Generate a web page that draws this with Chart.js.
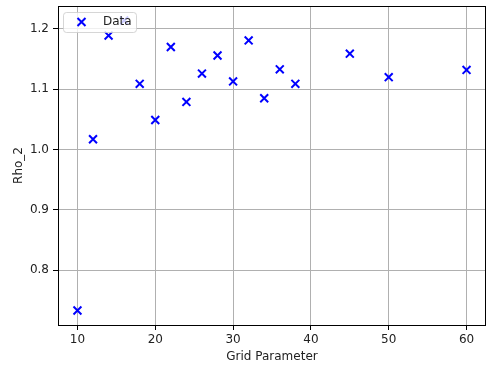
<!DOCTYPE html>
<html>
<head>
<meta charset="utf-8">
<script src="https://cdn.jsdelivr.net/npm/chart.js@4"></script>
<style>
  html, body { margin: 0; padding: 0; background: #fff; }
  #wrap { width: 487px; height: 365px; position: relative; }
</style>
</head>
<body>
<div id="wrap"><canvas id="chart"></canvas></div>
<script>
// Data
const gridParam = [10, 12, 14, 16, 18, 20, 22, 24, 26, 28, 30, 32, 34, 36, 38, 45, 50, 60];
const rho2 = [0.733, 1.017, 1.189, 1.214, 1.109, 1.049, 1.170, 1.079, 1.126, 1.156,
              1.113, 1.181, 1.085, 1.133, 1.109, 1.159, 1.120, 1.132];
const xTicks = [10, 20, 30, 40, 50, 60];
const yTicks = [0.8, 0.9, 1.0, 1.1, 1.2];
const seriesLabel = 'Data';

const FONT = { family: "'DejaVu Sans', sans-serif", size: 12 };

// matplotlib-style 5% margins
function padRange(vals) {
  const lo = Math.min(...vals), hi = Math.max(...vals);
  const m = (hi - lo) * 0.05;
  return [lo - m, hi + m];
}
const [xMin, xMax] = padRange(gridParam);
const [yMin, yMax] = padRange(rho2);

// ── Frame around plot area (all four spines) ──────────────────
const framePlugin = {
  id: 'frame',
  afterDraw(chart) {
    const { ctx, chartArea: a } = chart;
    ctx.save();
    ctx.strokeStyle = '#000';
    ctx.lineWidth = 1;
    ctx.strokeRect(Math.round(a.left) + 0.5, Math.round(a.top) + 0.5,
                   Math.round(a.right - a.left) - 1, Math.round(a.bottom - a.top));
    ctx.restore();
  }
};

// ── Semi-transparent legend box, top-left ─────────────────────
const legendPlugin = {
  id: 'mplLegend',
  afterDatasetsDraw(chart) {
    const { ctx, chartArea: a } = chart;
    const x = a.left + 5, y = a.top + 6, w = 73, h = 20;
    ctx.save();
    ctx.beginPath();
    ctx.roundRect(x + 0.5, y + 0.5, w, h, 3);
    ctx.fillStyle = 'rgba(255,255,255,0.8)';
    ctx.fill();
    ctx.strokeStyle = 'rgba(204,204,204,0.8)';
    ctx.lineWidth = 1;
    ctx.stroke();
    // marker
    const mx = x + 18.5, my = y + 10, r = 4;
    ctx.strokeStyle = '#0000ff';
    ctx.lineWidth = 2;
    ctx.beginPath();
    ctx.moveTo(mx - r, my - r); ctx.lineTo(mx + r, my + r);
    ctx.moveTo(mx - r, my + r); ctx.lineTo(mx + r, my - r);
    ctx.stroke();
    ctx.fillStyle = '#222';
    ctx.font = `${FONT.size}px ${FONT.family}`;
    ctx.textBaseline = 'middle';
    ctx.fillText(seriesLabel, x + 40, my);
    ctx.restore();
  }
};

new Chart(document.getElementById('chart'), {
  type: 'scatter',
  data: {
    datasets: [{
      label: seriesLabel,
      data: gridParam.map((g, i) => ({ x: g, y: rho2[i] })),
      pointStyle: 'crossRot',
      radius: 5.6,
      borderColor: '#0000ff',
      backgroundColor: '#0000ff',
      borderWidth: 2,
    }]
  },
  options: {
    responsive: true,
    maintainAspectRatio: false,
    animation: false,
    layout: { autoPadding: false, padding: { top: 6, right: 1, left: 0, bottom: 0 } },
    plugins: { legend: { display: false }, tooltip: { enabled: false } },
    scales: {
      x: {
        type: 'linear',
        min: xMin, max: xMax,
        afterBuildTicks: s => { s.ticks = xTicks.map(v => ({ value: v })); },
        afterFit: s => { s.height = 40; s.paddingLeft = 0; s.paddingRight = 0; },
        grid: { color: '#b0b0b0', lineWidth: 1, tickColor: '#000', tickLength: 5, drawOnChartArea: true },
        border: { display: false },
        ticks: { color: '#222', font: FONT, padding: 3, maxRotation: 0, callback: v => String(v) },
        title: { display: true, text: 'Grid Parameter', color: '#222', font: FONT, padding: { top: 3, bottom: 1 } }
      },
      y: {
        type: 'linear',
        min: yMin, max: yMax,
        afterBuildTicks: s => { s.ticks = yTicks.map(v => ({ value: v })); },
        afterFit: s => { s.width = 58; s.paddingTop = 0; s.paddingBottom = 0; },
        grid: { color: '#b0b0b0', lineWidth: 1, tickColor: '#000', tickLength: 5 },
        border: { display: false },
        ticks: { color: '#222', font: FONT, padding: 4, callback: v => Number(v).toFixed(1) },
        title: { display: true, text: 'Rho_2', color: '#222', font: FONT, padding: { top: 12, bottom: 0 } }
      }
    }
  },
  plugins: [framePlugin, legendPlugin]
});
</script>
</body>
</html>
